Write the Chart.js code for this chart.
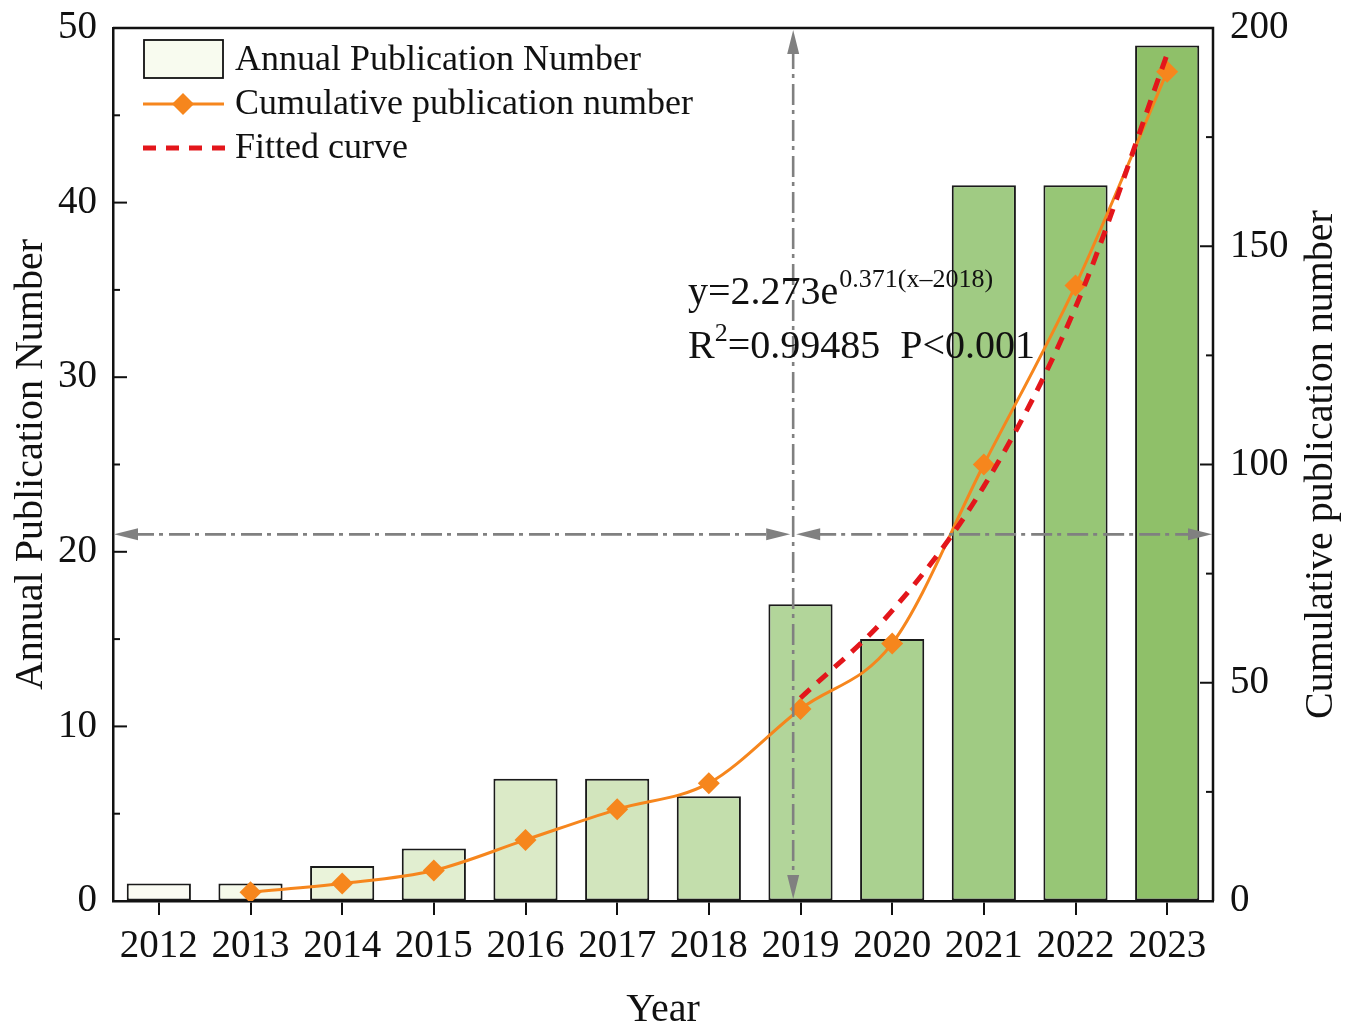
<!DOCTYPE html>
<html>
<head>
<meta charset="utf-8">
<script src="https://cdn.jsdelivr.net/npm/chart.js@4.4.1/dist/chart.umd.min.js"></script>
<style>
  html, body { margin: 0; padding: 0; background: #ffffff; }
  #wrap { width: 1355px; height: 1025px; }
</style>
</head>
<body>
<div id="wrap"><canvas id="pubChart" width="1355" height="1025"></canvas></div>
<script>
// Publication statistics, 2012–2023
const years = ['2012', '2013', '2014', '2015', '2016', '2017', '2018', '2019', '2020', '2021', '2022', '2023'];
const annualPublications = [1, 1, 2, 3, 7, 7, 6, 17, 15, 41, 41, 49];
const cumulativePublications = [null, 2, 4, 7, 14, 21, 27, 44, 59, 100, 141, 190];
const fittedCurve = [null, null, null, null, null, null, null, 46.5, 66.5, 95, 136, 194];
const leftTicks = [0, 10, 20, 30, 40, 50];
const leftMinorTicks = [5, 15, 25, 35, 45];
const rightTicks = [0, 50, 100, 150, 200];
const rightMinorTicks = [25, 75, 125, 175];
const barFills = ['#fafbf3', '#f5f9ea', '#eaf3da', '#e1eed0', '#dbeac7', '#d2e5bd', '#c3deac', '#b2d59a', '#aad190', '#a0cb83', '#97c676', '#8fc069'];

// Guide markers: 2019 split and the 21-paper level
const splitYearIndex = 7;
const splitLevel = 21;

const SERIF = '"Liberation Serif", "Times New Roman", serif';
const INK = '#111111';
const GUIDE = '#808080';
const ORANGE = '#f6861d';
const RED = '#e3161b';

function arrowHead(ctx, x, y, dir) {
  const L = 24, W = 6;
  ctx.beginPath();
  ctx.moveTo(x, y);
  if (dir === 'left') { ctx.lineTo(x + L, y - W); ctx.lineTo(x + L, y + W); }
  if (dir === 'right') { ctx.lineTo(x - L, y - W); ctx.lineTo(x - L, y + W); }
  if (dir === 'up') { ctx.lineTo(x - W, y + L); ctx.lineTo(x + W, y + L); }
  if (dir === 'down') { ctx.lineTo(x - W, y - L); ctx.lineTo(x + W, y - L); }
  ctx.closePath();
  ctx.fill();
}

function dashDot(ctx, x1, y1, x2, y2) {
  ctx.save();
  ctx.setLineDash([21, 5, 4, 6]);
  ctx.beginPath();
  ctx.moveTo(x1, y1);
  ctx.lineTo(x2, y2);
  ctx.stroke();
  ctx.restore();
}

// keep the plot box fixed: no extra room reserved for end labels
function noEdgePadding(s) {
  s.paddingTop = 0;
  s.paddingBottom = 0;
  s.paddingLeft = 0;
  s.paddingRight = 0;
}

const decorations = {
  id: 'decorations',
  afterDatasetsDraw(chart) {
    const { ctx, chartArea: a, scales } = chart;
    const xs = scales.x, yl = scales.y;
    const step = xs.getPixelForValue(1) - xs.getPixelForValue(0);
    const vx = xs.getPixelForValue(splitYearIndex) - 0.08 * step;
    const hy = yl.getPixelForValue(splitLevel);

    ctx.save();
    ctx.strokeStyle = GUIDE;
    ctx.fillStyle = GUIDE;
    ctx.lineWidth = 2.6;
    // vertical guide
    dashDot(ctx, vx, a.top + 20, vx, a.bottom - 20);
    arrowHead(ctx, vx, a.top + 2, 'up');
    arrowHead(ctx, vx, a.bottom - 2, 'down');
    // horizontal guide, left half
    dashDot(ctx, a.left + 20, hy, vx - 20, hy);
    arrowHead(ctx, a.left + 1, hy, 'left');
    arrowHead(ctx, vx - 3, hy, 'right');
    // horizontal guide, right half
    dashDot(ctx, vx + 22, hy, a.right - 20, hy);
    arrowHead(ctx, vx + 3, hy, 'left');
    arrowHead(ctx, a.right - 1, hy, 'right');
    ctx.restore();

    // fit equation
    ctx.save();
    ctx.fillStyle = INK;
    ctx.textBaseline = 'alphabetic';
    ctx.textAlign = 'left';
    const big = '40px ' + SERIF, small = '26px ' + SERIF;
    let x = 688;
    ctx.font = big;
    ctx.fillText('y=2.273e', x, 304);
    x += ctx.measureText('y=2.273e').width + 1;
    ctx.font = small;
    ctx.fillText('0.371(x\u20132018)', x, 287);
    x = 688;
    ctx.font = big;
    ctx.fillText('R', x, 358);
    x += ctx.measureText('R').width;
    ctx.font = small;
    ctx.fillText('2', x, 341);
    x += ctx.measureText('2').width;
    ctx.font = big;
    ctx.fillText('=0.99485  P<0.001', x, 358);
    ctx.restore();
  },
  afterDraw(chart) {
    const { ctx, chartArea: a, scales } = chart;
    const yl = scales.y, yr = scales.y2;
    ctx.save();
    ctx.strokeStyle = INK;
    ctx.lineWidth = 2.5;
    // frame: top and right edges
    ctx.beginPath();
    ctx.moveTo(a.left, a.top);
    ctx.lineTo(a.right, a.top);
    ctx.lineTo(a.right, a.bottom);
    ctx.stroke();
    // inward tick marks
    ctx.lineWidth = 2;
    const tick = (x1, y, len) => { ctx.beginPath(); ctx.moveTo(x1, y); ctx.lineTo(x1 + len, y); ctx.stroke(); };
    leftTicks.forEach(v => tick(a.left, yl.getPixelForValue(v), 14));
    leftMinorTicks.forEach(v => tick(a.left, yl.getPixelForValue(v), 7));
    rightTicks.forEach(v => tick(a.right, yr.getPixelForValue(v), -13));
    rightMinorTicks.forEach(v => tick(a.right, yr.getPixelForValue(v), -7));
    ctx.restore();

    // right axis title, reading bottom to top
    ctx.save();
    ctx.fillStyle = INK;
    ctx.font = '40px ' + SERIF;
    ctx.textAlign = 'center';
    ctx.textBaseline = 'middle';
    ctx.translate(1321, (a.top + a.bottom) / 2);
    ctx.rotate(-Math.PI / 2);
    ctx.fillText('Cumulative publication number', 0, 0);
    ctx.restore();

    // legend
    ctx.save();
    ctx.font = '36px ' + SERIF;
    ctx.textAlign = 'left';
    ctx.textBaseline = 'middle';
    const ds = chart.data.datasets;
    // bar swatch
    ctx.fillStyle = '#f8fbef';
    ctx.fillRect(144, 40, 79, 38);
    ctx.strokeStyle = INK;
    ctx.lineWidth = 1.8;
    ctx.strokeRect(144, 40, 79, 38);
    // cumulative line swatch
    ctx.strokeStyle = ORANGE;
    ctx.lineWidth = 3;
    ctx.beginPath(); ctx.moveTo(143, 104); ctx.lineTo(224, 104); ctx.stroke();
    ctx.fillStyle = ORANGE;
    ctx.beginPath();
    ctx.moveTo(183, 93); ctx.lineTo(194, 104); ctx.lineTo(183, 115); ctx.lineTo(172, 104);
    ctx.closePath(); ctx.fill();
    // fitted curve swatch
    ctx.strokeStyle = RED;
    ctx.lineWidth = 5;
    ctx.setLineDash([13, 10]);
    ctx.beginPath(); ctx.moveTo(143, 148); ctx.lineTo(229, 148); ctx.stroke();
    ctx.setLineDash([]);
    ctx.fillStyle = INK;
    ctx.fillText(ds[0].label, 235, 61);
    ctx.fillText(ds[1].label, 235, 105);
    ctx.fillText(ds[2].label, 235, 149);
    ctx.restore();
  }
};

new Chart(document.getElementById('pubChart'), {
  type: 'bar',
  data: {
    labels: years,
    datasets: [
      {
        label: 'Annual Publication Number',
        data: annualPublications,
        yAxisID: 'y',
        backgroundColor: barFills,
        borderColor: '#1a1a1a',
        borderWidth: 2,
        borderSkipped: false,
        categoryPercentage: 1,
        barPercentage: 0.7,
        order: 3
      },
      {
        type: 'line',
        label: 'Cumulative publication number',
        data: cumulativePublications,
        yAxisID: 'y2',
        borderColor: ORANGE,
        borderWidth: 3,
        cubicInterpolationMode: 'monotone',
        pointStyle: 'rectRot',
        pointRadius: 11,
        pointBackgroundColor: ORANGE,
        pointBorderWidth: 0,
        spanGaps: false,
        order: 2
      },
      {
        type: 'line',
        label: 'Fitted curve',
        data: fittedCurve,
        yAxisID: 'y2',
        borderColor: RED,
        borderWidth: 5,
        borderDash: [13, 10],
        cubicInterpolationMode: 'monotone',
        pointRadius: 0,
        order: 1
      }
    ]
  },
  options: {
    responsive: false,
    devicePixelRatio: 1,
    animation: false,
    layout: { padding: { top: 28, left: 0, right: 0, bottom: 0 } },
    plugins: {
      legend: { display: false },
      tooltip: { enabled: false },
      title: { display: false }
    },
    scales: {
      x: {
        type: 'category',
        offset: true,
        grid: { offset: false, drawOnChartArea: false, drawTicks: true, tickLength: 14, color: INK, lineWidth: 2 },
        border: { display: true, color: INK, width: 2.5 },
        ticks: { color: INK, font: { family: SERIF, size: 39 }, padding: 8, autoSkip: false, maxRotation: 0 },
        title: { display: true, text: 'Year', color: INK, font: { family: SERIF, size: 40, lineHeight: 0.75 }, padding: { top: 0, bottom: 0 } },
        afterFit: s => { s.height = 124; noEdgePadding(s); }
      },
      y: {
        position: 'left',
        min: 0,
        max: 50,
        afterBuildTicks: s => { s.ticks = leftTicks.map(v => ({ value: v })); },
        grid: { drawOnChartArea: false, drawTicks: false },
        border: { display: true, color: INK, width: 2.5 },
        ticks: { color: INK, font: { family: SERIF, size: 39 }, padding: 16 },
        title: { display: true, text: 'Annual Publication Number', color: INK, font: { family: SERIF, size: 40, lineHeight: 1 }, padding: { top: 11, bottom: 0 } },
        afterFit: s => { s.width = 113; noEdgePadding(s); }
      },
      y2: {
        position: 'right',
        min: 0,
        max: 200,
        afterBuildTicks: s => { s.ticks = rightTicks.map(v => ({ value: v })); },
        grid: { drawOnChartArea: false, drawTicks: false },
        border: { display: false },
        ticks: { color: INK, font: { family: SERIF, size: 39 }, padding: 17 },
        afterFit: s => { s.width = 142; noEdgePadding(s); }
      }
    }
  },
  plugins: [decorations]
});
</script>
</body>
</html>
